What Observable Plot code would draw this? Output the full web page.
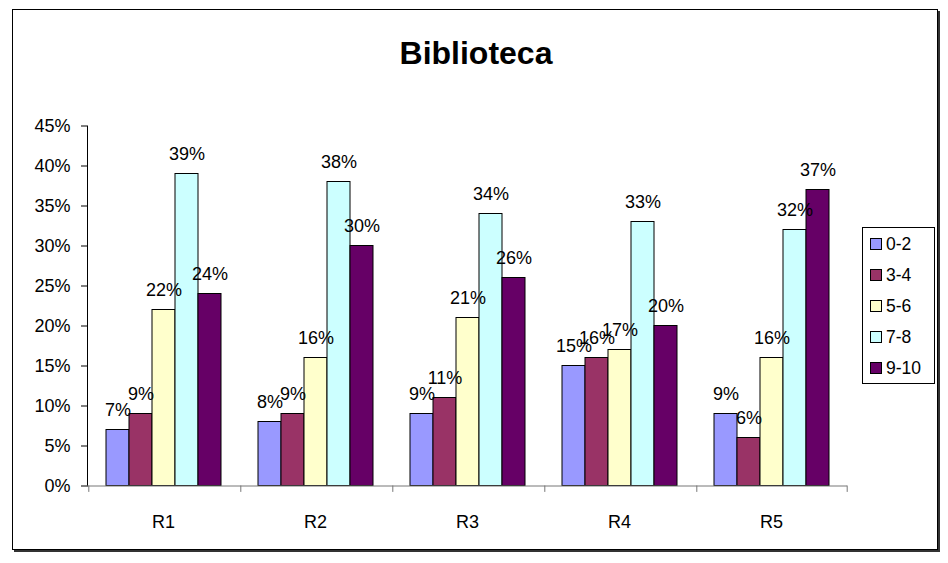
<!DOCTYPE html>
<html>
<head>
<meta charset="utf-8">
<script src="https://cdn.jsdelivr.net/npm/d3@7"></script>
<script src="https://cdn.jsdelivr.net/npm/@observablehq/plot@0.6"></script>
<style>
  html, body { margin: 0; padding: 0; background: #fff; }
  #wrap { position: relative; width: 948px; height: 563px; font-family: "Liberation Sans", Arial, sans-serif; }
  #frame { position: absolute; left: 12px; top: 9px; width: 924px; height: 539px; border: 1px solid #000; box-shadow: 2px 2px 0 #333; }
  #title { position: absolute; left: 0; width: 952px; top: 37px; line-height: 32px; text-align: center; font-size: 32px; font-weight: bold; }
  #chart { position: absolute; left: 0; top: 0; }
  #legend { position: absolute; left: 862px; top: 227px; width: 73px; height: 157px; border: 1px solid #000; box-sizing: border-box; background: #fff; }
  .item { position: absolute; left: 7px; font-size: 17.5px; height: 20px; line-height: 20px; white-space: nowrap; }
  .sw { display: inline-block; width: 10px; height: 10px; border: 1px solid #000; vertical-align: middle; margin-right: 4px; position: relative; top: -1px; }
</style>
</head>
<body>
<div id="wrap">
  <div id="frame"></div>
  <div id="chart"></div>
  <div id="title">Biblioteca</div>
  <div id="legend"></div>
</div>
<script>
const regions = ["R1", "R2", "R3", "R4", "R5"];
const series = ["0-2", "3-4", "5-6", "7-8", "9-10"];
const s02 = [7, 8, 9, 15, 9];
const s34 = [9, 9, 11, 16, 6];
const s56 = [22, 16, 21, 17, 16];
const s78 = [39, 38, 34, 33, 32];
const s910 = [24, 30, 26, 20, 37];
const colors = ["#9999FF", "#993366", "#FFFFCC", "#CCFFFF", "#660066"];
const yTicks = [0, 5, 10, 15, 20, 25, 30, 35, 40, 45];

const seriesValues = [s02, s34, s56, s78, s910];
const data = regions.flatMap((r, i) => series.map((s, j) => ({region: r, series: s, value: seriesValues[j][i]})));

const W = 948, H = 563, mL = 85, mR = 99, mT = 125.5, mB = 77.5;
const padOuter = 0.7375;
const facetW = (W - mL - mR) / regions.length;
const step = facetW / (series.length + 2 * padOuter);
const edge = step * padOuter + step / 2;

const chart = Plot.plot({
  width: W,
  height: H,
  marginLeft: mL,
  marginRight: mR,
  marginTop: mT,
  marginBottom: mB,
  style: {fontFamily: "'Liberation Sans', Arial, sans-serif", fontSize: "18px", color: "#000", background: "transparent", overflow: "visible"},
  fx: {domain: regions, padding: 0, label: null, tickSize: 0, tickPadding: 29, fontSize: 18},
  x: {domain: series, paddingInner: 0, paddingOuter: padOuter, axis: null},
  y: {domain: [0, 45], ticks: yTicks, tickFormat: d => d + "%", tickSize: 6, tickPadding: 11, label: null, line: true, fontSize: 18},
  color: {domain: series, range: colors},
  marks: [
    Plot.barY(data, {fx: "region", x: "series", y: "value", fill: "series", stroke: "#000", strokeWidth: 1}),
    Plot.text(data, {fx: "region", x: "series", y: "value", text: d => d.value + "%", dy: -20, fontSize: 18, fill: "#000"}),
    Plot.ruleY([0], {stroke: "#777"}),
    Plot.ruleX(data.filter(d => d.series === series[0]), {fx: "region", x: "series", y1: 0, y2: -0.8, dx: -edge, stroke: "#777"}),
    Plot.ruleX(data.filter(d => d.series === series[4] && d.region === regions[4]), {fx: "region", x: "series", y1: 0, y2: -0.8, dx: edge, stroke: "#777"})
  ]
});
chart.querySelectorAll("[aria-label='y-axis tick'], [aria-label='y-axis line']").forEach(g => g.setAttribute("stroke", "#777"));
document.getElementById("chart").appendChild(chart);

const legend = document.getElementById("legend");
series.forEach((s, i) => {
  const el = document.createElement("div");
  el.className = "item";
  el.style.top = (6 + i * 31) + "px";
  el.innerHTML = `<span class="sw" style="background:${colors[i]}"></span>${s}`;
  legend.appendChild(el);
});
</script>
</body>
</html>
